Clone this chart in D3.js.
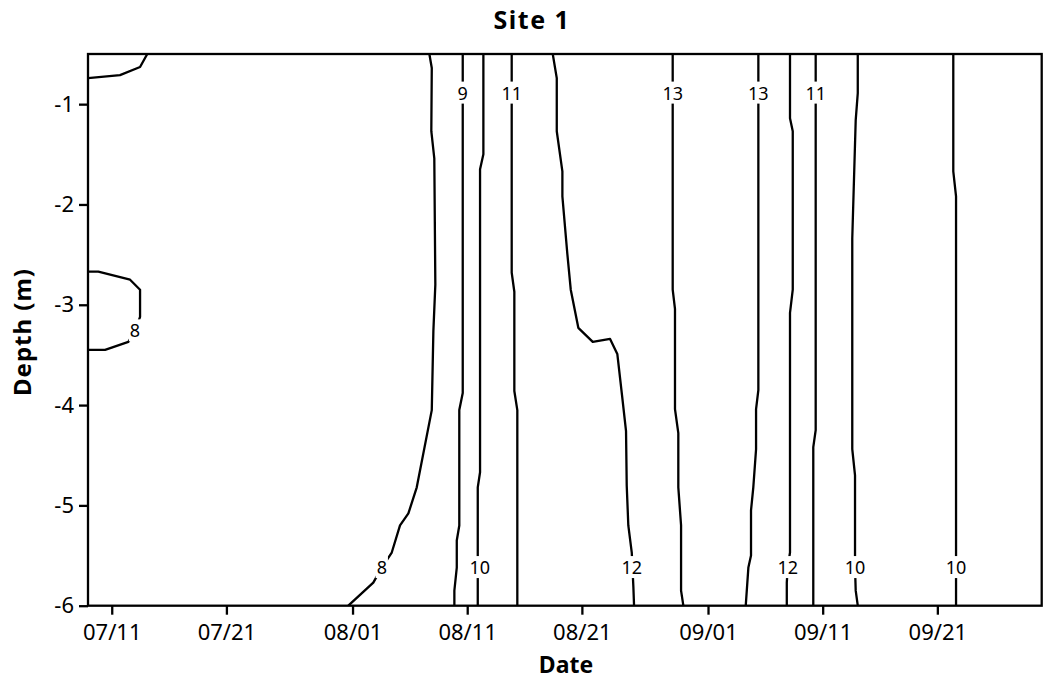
<!DOCTYPE html>
<html><head><meta charset="utf-8">
<script src="https://cdn.jsdelivr.net/npm/d3@7"></script>
<style>body{margin:0;background:#fff}</style>
</head><body>
<svg id="chart" width="1045" height="680"></svg>
<script>
// ---------- data ----------
const title = "Site 1";
const xTitle = "Date";
const yTitle = "Depth (m)";
// dates are given as day offsets from 07/11
const xTickDays = [0, 10, 21, 31, 41, 52, 62, 72];
const xTickLabels = ["07/11", "07/21", "08/01", "08/11", "08/21", "09/01", "09/11", "09/21"];
const xDomainDays = [-2.07, 81.1];
const yTicks = [-1, -2, -3, -4, -5, -6];
const yDomain = [-0.5, -6];

// contour lines: [day offset from 07/11, depth (m)]
const contour8TopLeft = [[-2.07,-0.74],[0.72,-0.71],[2.47,-0.63],[3.10,-0.5]];
const contour8Left = [[-2.07,-2.67],[-1.17,-2.67],[1.60,-2.75],[2.47,-2.85],[2.47,-3.12],[2.03,-3.26],[1.45,-3.37],[-0.58,-3.45],[-2.07,-3.45]];
const contour8 = [[20.63,-6],[22.81,-5.77],[23.55,-5.62],[24.42,-5.47],[25.14,-5.20],[25.87,-5.08],[26.60,-4.82],[27.91,-4.05],[28.05,-3.26],[28.22,-2.80],[28.13,-1.54],[27.87,-1.27],[27.91,-0.64],[27.70,-0.5]];
const contour9 = [[30.61,-0.5],[30.61,-3.88],[30.31,-4.05],[30.31,-5.20],[30.09,-5.35],[30.09,-5.62],[29.88,-5.85],[29.88,-6]];
const contour10a = [[32.41,-0.5],[32.41,-1.50],[32.12,-1.65],[32.12,-4.67],[31.92,-4.82],[31.92,-6]];
const contour11a = [[34.88,-0.5],[34.88,-2.68],[35.11,-2.87],[35.11,-3.86],[35.37,-4.05],[35.37,-6]];
const contour12a = [[38.46,-0.5],[38.81,-0.74],[38.81,-1.27],[39.30,-1.67],[39.30,-1.92],[39.73,-2.49],[40.03,-2.85],[40.69,-3.23],[41.95,-3.37],[43.46,-3.34],[44.09,-3.49],[44.50,-3.90],[44.85,-4.26],[44.91,-4.80],[45.05,-5.20],[45.35,-5.47],[45.49,-5.81],[45.55,-6]];
const contour13a = [[48.92,-0.5],[48.92,-2.85],[49.12,-3.04],[49.12,-4.04],[49.41,-4.28],[49.41,-4.82],[49.65,-5.20],[49.65,-5.85],[49.85,-6]];
const contour13b = [[56.39,-0.5],[56.39,-3.85],[56.19,-4.04],[56.19,-4.44],[55.95,-4.82],[55.75,-5.05],[55.75,-5.50],[55.52,-5.62],[55.29,-6]];
const contour12b = [[59.15,-0.5],[59.15,-1.14],[59.39,-1.27],[59.39,-2.85],[59.15,-3.08],[59.15,-5.47],[58.95,-5.62],[58.87,-5.77],[58.87,-6]];
const contour11b = [[61.39,-0.5],[61.39,-4.25],[61.18,-4.42],[61.18,-6]];
const contour10b = [[65.06,-0.5],[65.06,-0.89],[64.88,-1.16],[64.58,-2.34],[64.58,-4.44],[64.82,-4.70],[64.82,-5.62],[64.88,-5.85],[65.06,-6]];
const contour10c = [[73.39,-0.5],[73.39,-1.67],[73.63,-1.92],[73.63,-6]];

// contour labels: [text, day offset, depth]
const contourLabels = [
  ["8", 2.03, -3.26], ["8", 23.55, -5.62], ["9", 30.61, -0.89], ["10", 32.1, -5.62],
  ["11", 34.88, -0.89], ["12", 45.35, -5.62], ["13", 48.92, -0.89], ["13", 56.39, -0.89],
  ["12", 58.95, -5.62], ["11", 61.39, -0.89], ["10", 64.82, -5.62], ["10", 73.63, -5.62]
];

const contours = [contour8TopLeft, contour8Left, contour8, contour9, contour10a, contour11a,
  contour12a, contour13a, contour13b, contour12b, contour11b, contour10b, contour10c];

// ---------- drawing ----------
(function () {
const base = Date.UTC(2000, 6, 11);
const toDate = d => new Date(base + d * 864e5);

const svg = d3.select("#chart");
const mL = 88, mR = 1041.7, mT = 54, mB = 605.7;
const FONT = "'Noto Sans', 'Open Sans', sans-serif";

const x = d3.scaleUtc().domain(xDomainDays.map(toDate)).range([mL, mR]);
const y = d3.scaleLinear().domain(yDomain).range([mT, mB]);

svg.append("defs").append("clipPath").attr("id", "clip")
  .append("rect").attr("x", mL).attr("y", mT).attr("width", mR - mL).attr("height", mB - mT);

const line = d3.line().x(d => x(toDate(d[0]))).y(d => y(d[1]));
const gLines = svg.append("g").attr("clip-path", "url(#clip)");
gLines.selectAll("path").data(contours).join("path")
  .attr("d", line).attr("fill", "none").attr("stroke", "#000")
  .attr("stroke-width", 2.3).attr("stroke-linejoin", "round");

// labels with white backgrounds to break lines
const gLab = svg.append("g");
contourLabels.forEach(([t, d, dep]) => {
  const g = gLab.append("g");
  const txt = g.append("text").attr("x", x(toDate(d))).attr("y", y(dep)).attr("dy", "0.36em")
    .attr("text-anchor", "middle").attr("font-family", FONT).attr("font-size", 18).text(t);
  const bb = txt.node().getBBox();
  g.insert("rect", "text").attr("x", bb.x - 1).attr("y", bb.y + 1).attr("width", bb.width + 2)
    .attr("height", bb.height - 2).attr("fill", "#fff");
});

// axes
const xAxis = d3.axisBottom(x).tickValues(xTickDays.map(toDate))
  .tickFormat((d, i) => xTickLabels[i]).tickSize(9).tickSizeOuter(0);
const gx = svg.append("g").attr("transform", `translate(0,${mB})`).call(xAxis);
gx.select(".domain").remove();
gx.selectAll(".tick line").attr("stroke-width", 2.3);
gx.selectAll(".tick text").attr("y", 34).attr("dy", 0)
  .attr("font-family", FONT).attr("font-size", 22).attr("fill", "#000");

const yAxis = d3.axisLeft(y).tickValues(yTicks).tickFormat(d => String(d)).tickSize(9).tickSizeOuter(0);
const gy = svg.append("g").attr("transform", `translate(${mL},0)`).call(yAxis);
gy.select(".domain").remove();
gy.selectAll(".tick line").attr("stroke-width", 2.3);
gy.selectAll(".tick text").attr("x", -14).attr("font-family", FONT).attr("font-size", 22).attr("fill", "#000");

// frame
svg.append("rect").attr("x", mL).attr("y", mT).attr("width", mR - mL).attr("height", mB - mT)
  .attr("fill", "none").attr("stroke", "#000").attr("stroke-width", 2.3);

// titles
svg.append("text").attr("x", 532).attr("y", 29).attr("text-anchor", "middle")
  .attr("font-family", FONT).attr("font-weight", "bold").attr("font-size", 25)
  .attr("letter-spacing", 1.5).text(title);
svg.append("text").attr("x", 566).attr("y", 673).attr("text-anchor", "middle")
  .attr("font-family", FONT).attr("font-weight", "bold").attr("font-size", 23).text(xTitle);
svg.append("text").attr("transform", "translate(31,332) rotate(-90)").attr("text-anchor", "middle")
  .attr("font-family", FONT).attr("font-weight", "bold").attr("font-size", 24)
  .attr("letter-spacing", 1).text(yTitle);
})();
</script>
</body></html>
